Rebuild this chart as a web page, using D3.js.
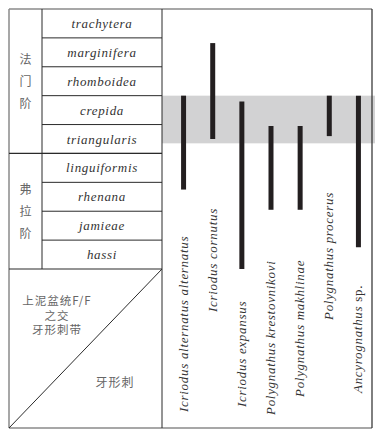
<!DOCTYPE html>
<html lang="en">
<head>
<meta charset="UTF-8">
<title>F/F conodont ranges</title>
<script src="https://cdnjs.cloudflare.com/ajax/libs/d3/7.9.0/d3.min.js"></script>
<style>
  body { margin: 0; background: #fff; }
  .serif { font-family: "Liberation Serif", "Times New Roman", "DejaVu Serif", serif; }
  .cjk { font-family: "Noto Sans CJK SC", sans-serif; }
</style>
</head>
<body>
<svg width="380" height="437"></svg>
<script>
// conodont zones, top (youngest) to bottom
const zones = ["trachytera", "marginifera", "rhomboidea", "crepida", "triangularis",
               "linguiformis", "rhenana", "jamieae", "hassi"];
// stages and the zone index span they cover
const stageNames = ["法门阶", "弗拉阶"];
const stageFrom = [0, 5];
const stageTo = [5, 9];

const species = ["Icriodus alternatus alternatus", "Icriodus cornutus", "Icriodus expansus",
                 "Polygnathus krestovnikovi", "Polygnathus makhlinae", "Polygnathus procerus",
                 "Ancyrognathus sp."];
// range of each species in zone units (0 = top of trachytera, 9 = base of hassi)
const rangeTop = [3.0, 1.18, 3.2, 4.05, 4.05, 3.0, 3.0];
const rangeBase = [6.25, 4.5, 9.0, 6.95, 6.95, 4.4, 8.25];
// shaded interval (F/F boundary interval)
const shadeTop = 3.0, shadeBase = 4.65;

// where each rotated species name ends at the bottom (px)
const labelBottom = [412, 312, 407, 415, 397, 320, 393];

let svg = d3.select("svg");

let frameL = 9, frameT = 9, frameR = 372, frameB = 428;
let colStage = 42, colZone = 162;

let zoneScale = d3.scaleBand().domain(zones).range([frameT, 269]);
let depth = d3.scaleLinear().domain([0, zones.length]).range([frameT, 269]);
let xScale = d3.scaleBand().domain(species).range([169, 373]);

// shaded band
svg.append("rect")
    .attr("x", colZone)
    .attr("y", depth(shadeTop))
    .attr("width", 375 - colZone)
    .attr("height", depth(shadeBase) - depth(shadeTop))
    .attr("fill", "#d2d2d3");

// frame
const dark = "#2a2a2a", light = "#8a8a8a";
svg.append("line").attr("x1", frameL).attr("x2", frameR).attr("y1", frameT).attr("y2", frameT)
    .attr("stroke", light).attr("stroke-width", 1.5);
svg.append("line").attr("x1", frameL).attr("x2", frameR).attr("y1", frameB).attr("y2", frameB)
    .attr("stroke", light).attr("stroke-width", 1.5);
svg.append("line").attr("x1", frameL).attr("x2", frameL).attr("y1", frameT).attr("y2", frameB)
    .attr("stroke", light).attr("stroke-width", 1.5);
svg.append("line").attr("x1", frameR).attr("x2", frameR).attr("y1", frameT).attr("y2", frameB)
    .attr("stroke", dark).attr("stroke-width", 1.2);
svg.append("line").attr("x1", colZone).attr("x2", colZone).attr("y1", frameT).attr("y2", frameB)
    .attr("stroke", dark).attr("stroke-width", 1);
svg.append("line").attr("x1", colStage).attr("x2", colStage).attr("y1", frameT).attr("y2", depth(zones.length))
    .attr("stroke", dark).attr("stroke-width", 1);

// zone rows
zones.forEach((z, i) => {
    if (i > 0) {
        svg.append("line")
            .attr("x1", colStage).attr("x2", colZone)
            .attr("y1", zoneScale(z)).attr("y2", zoneScale(z))
            .attr("stroke", dark).attr("stroke-width", 1);
    }
    svg.append("text")
        .attr("class", "serif")
        .attr("x", (colStage + colZone) / 2)
        .attr("y", zoneScale(z) + zoneScale.bandwidth() / 2 + 4.5)
        .attr("text-anchor", "middle")
        .attr("font-style", "italic")
        .attr("font-size", 13)
        .attr("letter-spacing", 0.7)
        .attr("fill", "#333")
        .text(z);
});

// stage boundaries and names
stageNames.forEach((s, i) => {
    let y0 = depth(stageFrom[i]), y1 = depth(stageTo[i]);
    svg.append("line")
        .attr("x1", frameL).attr("x2", colZone)
        .attr("y1", y1).attr("y2", y1)
        .attr("stroke", dark).attr("stroke-width", 1.2);
    let mid = (y0 + y1) / 2;
    s.split("").forEach((ch, k) => {
        svg.append("text")
            .attr("class", "cjk")
            .attr("x", (frameL + colStage) / 2)
            .attr("y", mid + (k - 1) * 22 + 4.5)
            .attr("text-anchor", "middle")
            .attr("font-size", 12)
            .attr("fill", "#666")
            .text(ch);
    });
});

// legend box with diagonal
svg.append("line")
    .attr("x1", frameL).attr("y1", frameB)
    .attr("x2", colZone).attr("y2", depth(zones.length))
    .attr("stroke", dark).attr("stroke-width", 1);

const boxLines = ["上泥盆统F/F", "之交", "牙形刺带"];
let boxText = svg.append("text")
    .attr("class", "cjk")
    .attr("text-anchor", "middle")
    .attr("font-size", 11.5)
    .attr("letter-spacing", 1)
    .attr("fill", "#666");
boxLines.forEach((t, i) => {
    boxText.append("tspan")
        .attr("x", 57).attr("y", 305 + i * 14.5)
        .text(t);
});
svg.append("text")
    .attr("class", "cjk")
    .attr("x", 115).attr("y", 387)
    .attr("text-anchor", "middle")
    .attr("font-size", 12)
    .attr("letter-spacing", 1)
    .attr("fill", "#666")
    .text("牙形刺");

// range bars
species.forEach((sp, i) => {
    let cx = xScale(sp) + xScale.bandwidth() / 2;
    svg.append("line")
        .attr("x1", cx).attr("x2", cx)
        .attr("y1", depth(rangeTop[i]))
        .attr("y2", depth(rangeBase[i]))
        .attr("stroke", "#231f20")
        .attr("stroke-width", 5);

    let lx = cx + 4, ly = labelBottom[i];
    let t = svg.append("text")
        .attr("class", "serif")
        .attr("transform", `translate(${lx},${ly}) rotate(-90)`)
        .attr("font-size", 13)
        .attr("letter-spacing", 0.7)
        .attr("fill", "#333");
    if (sp.endsWith(" sp.")) {
        t.append("tspan").attr("font-style", "italic").text(sp.replace(" sp.", ""));
        t.append("tspan").text(" sp.");
    } else {
        t.attr("font-style", "italic").text(sp);
    }
});
</script>
</body>
</html>
